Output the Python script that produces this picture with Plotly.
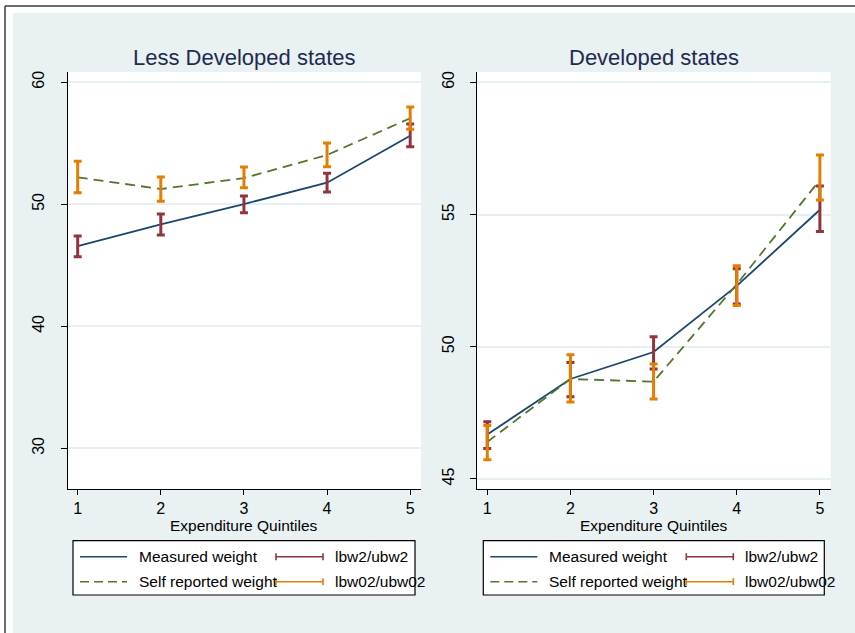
import plotly.graph_objects as go

# ---- data -------------------------------------------------------------
quintiles = [1, 2, 3, 4, 5]

# Less developed states
ld_measured = [46.58, 48.36, 50.02, 51.77, 55.62]
ld_measured_lo = [45.70, 47.48, 49.31, 51.00, 54.72]
ld_measured_hi = [47.40, 49.20, 50.68, 52.54, 56.58]
ld_selfrep = [52.21, 51.25, 52.15, 54.04, 57.05]
ld_selfrep_lo = [50.95, 50.25, 51.36, 53.08, 56.15]
ld_selfrep_hi = [53.52, 52.24, 53.06, 55.03, 57.98]

# Developed states
d_measured = [46.68, 48.78, 49.80, 52.30, 55.18]
d_measured_lo = [46.15, 48.11, 49.16, 51.62, 54.36]
d_measured_hi = [47.16, 49.40, 50.38, 52.95, 56.08]
d_selfrep = [46.40, 48.78, 48.68, 52.36, 56.31]
d_selfrep_lo = [45.73, 47.91, 48.02, 51.56, 55.55]
d_selfrep_hi = [47.02, 49.70, 49.35, 53.06, 57.25]

panel_titles = ["Less Developed states", "Developed states"]
x_title = "Expenditure Quintiles"
legend_labels = ["Measured weight", "Self reported weight", "lbw2/ubw2", "lbw02/ubw02"]
left_yticks = [30, 40, 50, 60]
right_yticks = [45, 50, 55, 60]

# ---- styling ------------------------------------------------------------
W, H = 855, 633
NAVY = "#1A476F"
GREEN = "#55752F"
MAROON = "#90353B"
ORANGE = "#E37E00"
REGION = "#E9F1F2"
GRID = "#E6EFF1"
TITLE_C = "#1E2B50"
FONT = "Liberation Sans"


def px(x):
    return x / W


def py(y):
    return 1 - y / H


panels = [
    dict(x0=67.7, x1=421.0, yr=[26.67, 60.84], ticks=left_yticks,
         m=ld_measured, mlo=ld_measured_lo, mhi=ld_measured_hi,
         s=ld_selfrep, slo=ld_selfrep_lo, shi=ld_selfrep_hi),
    dict(x0=477.3, x1=830.7, yr=[44.62, 60.39], ticks=right_yticks,
         m=d_measured, mlo=d_measured_lo, mhi=d_measured_hi,
         s=d_selfrep, slo=d_selfrep_lo, shi=d_selfrep_hi),
]
PLOT_TOP, PLOT_BOT = 72.0, 489.0

fig = go.Figure()
shapes = []
annotations = []

# white strips and frame around the graph region
shapes.append(dict(type="rect", xref="paper", yref="paper", x0=0, x1=1, y0=py(13), y1=1,
                   fillcolor="white", line_width=0, layer="below"))
shapes.append(dict(type="rect", xref="paper", yref="paper", x0=0, x1=px(13), y0=0, y1=1,
                   fillcolor="white", line_width=0, layer="below"))
shapes.append(dict(type="line", xref="paper", yref="paper", x0=px(5), x1=1, y0=py(6), y1=py(6),
                   line=dict(color="#3a3a3a", width=1.5)))
shapes.append(dict(type="line", xref="paper", yref="paper", x0=px(5), x1=px(5), y0=py(6), y1=0,
                   line=dict(color="#3a3a3a", width=1.5)))


def add_errbar(i, xs, lo, hi, color):
    mid = [(a + b) / 2 for a, b in zip(lo, hi)]
    fig.add_trace(go.Scatter(
        x=xs, y=mid, mode="markers", marker=dict(size=1, opacity=0, color=color),
        error_y=dict(type="data", symmetric=False,
                     array=[h - m for h, m in zip(hi, mid)],
                     arrayminus=[m - l for m, l in zip(mid, lo)],
                     color=color, thickness=3, width=4),
        xaxis=f"x{'' if i == 0 else 2}", yaxis=f"y{'' if i == 0 else 2}",
        showlegend=False, hoverinfo="skip"))


for i, p in enumerate(panels):
    xa = f"x{'' if i == 0 else 2}"
    ya = f"y{'' if i == 0 else 2}"
    fig.add_trace(go.Scatter(x=quintiles, y=p["m"], mode="lines",
                             line=dict(color=NAVY, width=1.8),
                             xaxis=xa, yaxis=ya, showlegend=False))
    fig.add_trace(go.Scatter(x=quintiles, y=p["s"], mode="lines",
                             line=dict(color=GREEN, width=1.8, dash="10px,6px"),
                             xaxis=xa, yaxis=ya, showlegend=False))
    add_errbar(i, quintiles, p["mlo"], p["mhi"], MAROON)
    add_errbar(i, quintiles, p["slo"], p["shi"], ORANGE)

    cx = (p["x0"] + p["x1"]) / 2
    annotations.append(dict(text=panel_titles[i], x=px(cx), y=py(58), xref="paper", yref="paper",
                            xanchor="center", yanchor="middle", showarrow=False,
                            font=dict(family=FONT, size=22, color=TITLE_C)))
    annotations.append(dict(text=x_title, x=px(cx), y=py(525), xref="paper", yref="paper",
                            xanchor="center", yanchor="middle", showarrow=False,
                            font=dict(family=FONT, size=15.5, color="black")))

    # legend box
    lx = 73.0 if i == 0 else 483.3
    box_w = 342.0 if i == 0 else 341.0
    shapes.append(dict(type="rect", xref="paper", yref="paper", x0=px(lx), x1=px(lx + box_w),
                       y0=py(595), y1=py(540.7), fillcolor="white",
                       line=dict(color="black", width=1.2)))
    r1, r2 = 556.7, 581.7
    shapes.append(dict(type="line", xref="paper", yref="paper", x0=px(lx + 7), x1=px(lx + 54),
                       y0=py(r1), y1=py(r1), line=dict(color=NAVY, width=1.6)))
    shapes.append(dict(type="line", xref="paper", yref="paper", x0=px(lx + 7), x1=px(lx + 54),
                       y0=py(r2), y1=py(r2), line=dict(color=GREEN, width=1.6, dash="9px,5px")))
    for row, col in ((r1, MAROON), (r2, ORANGE)):
        ex0, ex1 = lx + 203, lx + 250
        shapes.append(dict(type="line", xref="paper", yref="paper", x0=px(ex0), x1=px(ex1),
                           y0=py(row), y1=py(row), line=dict(color=col, width=1.6)))
        for ex in (ex0, ex1):
            shapes.append(dict(type="line", xref="paper", yref="paper", x0=px(ex), x1=px(ex),
                               y0=py(row - 3.5), y1=py(row + 3.5), line=dict(color=col, width=1.6)))
    for txt, tx, ty in ((legend_labels[0], lx + 64, r1), (legend_labels[1], lx + 64, r2),
                        (legend_labels[2], lx + 260, r1), (legend_labels[3], lx + 260, r2)):
        annotations.append(dict(text=txt, x=px(tx), y=py(ty), xref="paper", yref="paper",
                                xanchor="left", yanchor="middle", showarrow=False,
                                font=dict(family=FONT, size=15.5, color="black")))

axis_common = dict(showline=True, linecolor="black", linewidth=1, ticks="outside",
                   tickcolor="black", tickwidth=1, zeroline=False,
                   tickfont=dict(family=FONT, size=16, color="black"))

layout = dict(
    width=W, height=H, margin=dict(l=0, r=0, t=0, b=0),
    paper_bgcolor=REGION, plot_bgcolor="white",
    shapes=shapes, annotations=annotations, showlegend=False,
)
for i, p in enumerate(panels):
    sfx = "" if i == 0 else "2"
    layout[f"xaxis{sfx}"] = dict(axis_common, domain=[px(p["x0"]), px(p["x1"])],
                                 range=[0.88, 5.13], tickvals=quintiles, ticklen=5,
                                 showgrid=False, anchor=f"y{sfx}")
    layout[f"yaxis{sfx}"] = dict(axis_common, domain=[py(PLOT_BOT), py(PLOT_TOP)],
                                 range=p["yr"], tickvals=p["ticks"], ticklen=6,
                                 tickangle=-90, ticklabelstandoff=10,
                                 showgrid=True, gridcolor=GRID, gridwidth=1.5,
                                 anchor=f"x{sfx}")

fig.update_layout(**layout)
fig.write_html("out.html")
